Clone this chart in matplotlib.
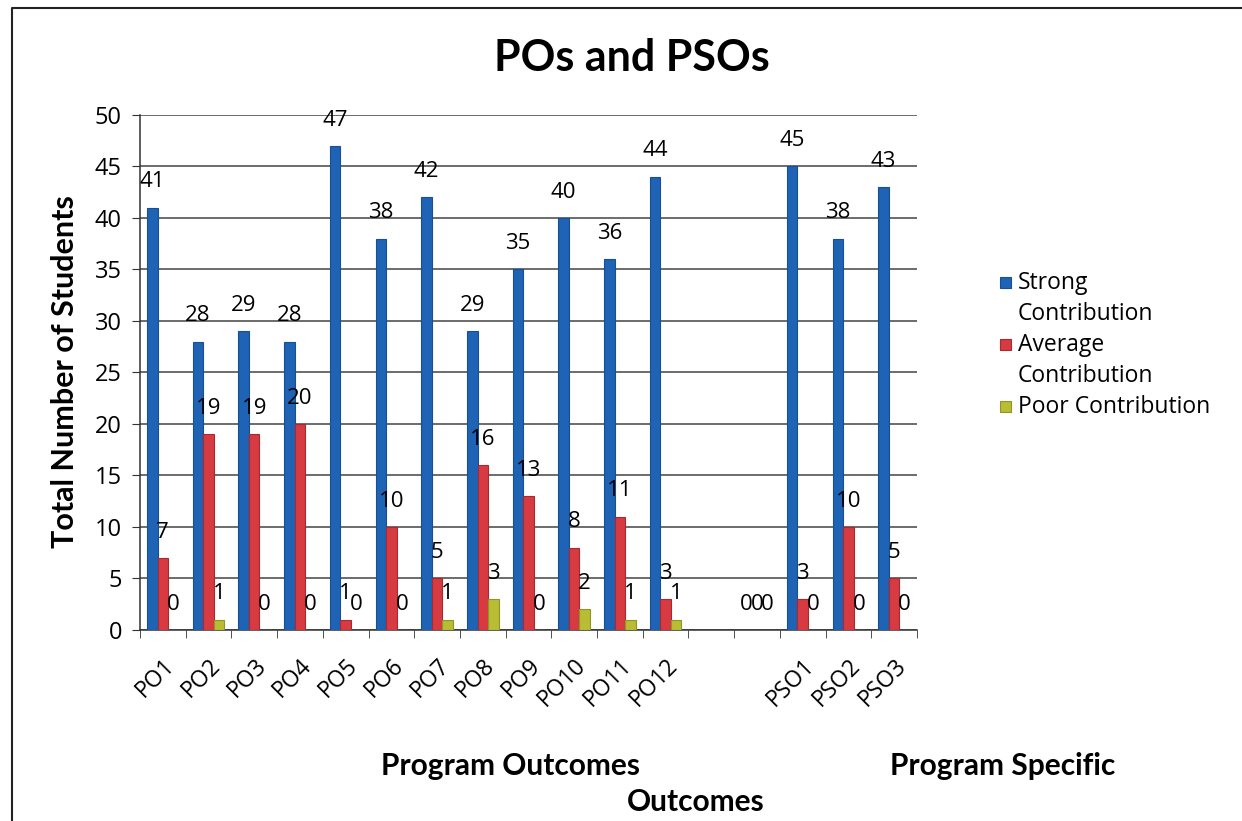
import numpy as np
import matplotlib.pyplot as plt
from matplotlib.lines import Line2D
from matplotlib.patches import Rectangle

# outcome categories; two spacer slots separate the POs from the PSOs
outcomes = ['PO1', 'PO2', 'PO3', 'PO4', 'PO5', 'PO6', 'PO7', 'PO8', 'PO9',
            'PO10', 'PO11', 'PO12', '', '', 'PSO1', 'PSO2', 'PSO3']
strong = [41, 28, 29, 28, 47, 38, 42, 29, 35, 40, 36, 44, None, 0, 45, 38, 43]
average = [7, 19, 19, 20, 1, 10, 5, 16, 13, 8, 11, 3, None, 0, 3, 10, 5]
poor = [0, 1, 0, 0, 0, 0, 1, 3, 0, 2, 1, 1, None, 0, 0, 0, 0]

series = [('Strong\nContribution', strong, '#1f63b5', '#174f94'),
          ('Average\nContribution', average, '#d73a40', '#a82a30'),
          ('Poor Contribution', poor, '#b8bd33', '#8f9426')]

plt.rcParams['font.family'] = ['Open Sans', 'DejaVu Sans']

fig = plt.figure(figsize=(12.42, 8.21), dpi=100)
ax = fig.add_axes([0.1127, 0.2327, 0.6256, 0.6273])

x = np.arange(len(outcomes))
w = 0.23
for i, (name, vals, col, edge) in enumerate(series):
    h = [np.nan if v is None else v for v in vals]
    bars = ax.bar(x + (i - 1) * w, h, width=w, color=col, edgecolor=edge,
                  linewidth=0.8, zorder=3)
    labels = ['' if v is None else str(v) for v in vals]
    ax.bar_label(bars, labels=labels, padding=11, fontsize=16, zorder=4)

ax.set_xlim(-0.5, len(outcomes) - 0.5)
ax.set_ylim(0, 50)
ax.set_yticks(np.arange(0, 51, 5))
ax.yaxis.grid(True, color='#444444', linewidth=1.1, zorder=0)
ax.set_axisbelow(True)

ax.set_xticks(x)
ax.set_xticklabels(outcomes, rotation=45, ha='right', va='top',
                   rotation_mode='anchor', fontsize=16.5)
ax.set_xticks(np.arange(-0.5, len(outcomes)), minor=True)
ax.tick_params(axis='x', which='major', length=0, pad=17)
ax.tick_params(axis='x', which='minor', length=6, color='#333333')
ax.tick_params(axis='y', length=6, color='#333333', labelsize=17, pad=7)

for side in ['top', 'right']:
    ax.spines[side].set_visible(False)
for side in ['left', 'bottom']:
    ax.spines[side].set_color('#333333')
    ax.spines[side].set_linewidth(1.1)

fig.text(0.509, 0.929, 'POs and PSOs', family='Lato', fontweight='bold',
         fontsize=31, ha='center', va='center')
fig.text(0.052, 0.547, 'Total Number of Students', family='Lato',
         fontweight='bold', fontsize=22, rotation=90, ha='center', va='center')
fig.text(0.411, 0.067, 'Program Outcomes', family='Lato', fontweight='bold',
         fontsize=21.5, ha='center', va='center')
fig.text(0.807, 0.067, 'Program Specific', family='Lato', fontweight='bold',
         fontsize=21.5, ha='center', va='center')
fig.text(0.56, 0.023, 'Outcomes', family='Lato', fontweight='bold',
         fontsize=21.5, ha='center', va='center')

# legend drawn as swatches plus text lines
line_h = 31 / 821
y0 = 1 - 283 / 821
for i, (name, vals, col, edge) in enumerate(series):
    yy = y0 - i * 2 * line_h
    fig.patches.append(Rectangle((1000 / 1242, yy - 5 / 821), 11 / 1242, 11 / 821,
                                 transform=fig.transFigure, facecolor=col,
                                 edgecolor=edge, linewidth=0.8))
    for j, part in enumerate(name.split('\n')):
        fig.text(1018 / 1242, yy - j * line_h, part, fontsize=16.5,
                 ha='left', va='center')

# page border
fig.lines.append(Line2D([12 / 1242, 12 / 1242, 1.0], [0.0, 1 - 8 / 821, 1 - 8 / 821],
                        transform=fig.transFigure, color='#222222', linewidth=1.5))

fig.savefig('out.png', dpi=100)
